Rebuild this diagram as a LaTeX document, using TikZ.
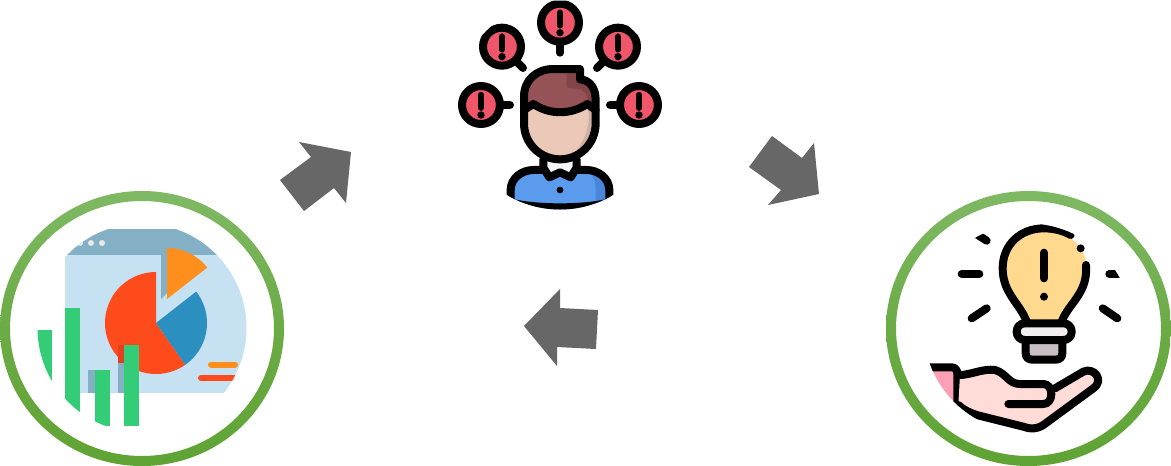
\documentclass[tikz,border=0pt]{standalone}
\definecolor{ringtop}{HTML}{7FB964}
\definecolor{ringmid}{HTML}{6BAB45}
\definecolor{ringbot}{HTML}{5FA334}
\definecolor{arrowgrey}{HTML}{676767}
\definecolor{winbg}{HTML}{C5E1F2}
\definecolor{winhead}{HTML}{84B0C6}
\definecolor{dotgrey}{HTML}{E8E8E8}
\definecolor{piered}{HTML}{FE4B1C}
\definecolor{piedark}{HTML}{E63D1C}
\definecolor{pieblue}{HTML}{2B90C0}
\definecolor{pieorange}{HTML}{FE8F1C}
\definecolor{bargreen}{HTML}{32CD76}
\definecolor{bulbfill}{HTML}{FED98E}
\definecolor{collar}{HTML}{F2EEEF}
\definecolor{socket}{HTML}{C9BEC3}
\definecolor{handfill}{HTML}{FFDCD8}
\definecolor{cuff}{HTML}{FDA0B5}
\definecolor{bubble}{HTML}{F0566A}
\definecolor{bubbledark}{HTML}{DD4558}
\definecolor{skin}{HTML}{ECC8B9}
\definecolor{skindark}{HTML}{D2AFA5}
\definecolor{hair}{HTML}{955257}
\definecolor{hairdark}{HTML}{834448}
\definecolor{shirt}{HTML}{5B9BEE}
\definecolor{shirtdark}{HTML}{4A86DA}
\definecolor{bow}{HTML}{F4F4F6}
\tikzset{
  blockarrow/.style={fill=arrowgrey,draw=none},
  greenring/.style={top color=ringtop,bottom color=ringbot,middle color=ringmid,even odd rule},
  ink/.style={draw=black,line width=8pt,line cap=round,line join=round},
  zoomcoords/.style={x=0.33333pt,y=-0.33333pt}
}
\newcommand{\sector}[5]{% colour, cx, cy, from, to
  \fill[#1] (#2,#3) -- plot[domain=#4:#5,samples=60] ({#2+51*cos(\x)},{#3-51*sin(\x)}) -- cycle;}
\newcommand{\alertbubble}[2]{%
  \begin{scope}
    \clip (#1,#2) circle (19pt);
    \fill[bubbledark] (#1,#2) circle (19pt);
    \fill[bubble] (#1-15,#2) circle (19pt);
  \end{scope}
  \draw[ink] (#1,#2) circle (19pt);
  \draw[ink,line width=6.5pt] (#1,#2-30)--(#1,#2+8);
  \fill[black] (#1,#2+30) circle (3.7pt);}
\begin{document}
\begin{tikzpicture}[x=1pt,y=-1pt]
\useasboundingbox (0,0) rectangle (1171,466);
\fill[white] (0,0) rectangle (1171,466);

% block arrows
\fill[blockarrow] (280,180)--(311,157)--(299,142)--(351,152)--(346,203)--(334,188)--(304,211)--cycle;
\fill[blockarrow] (749,167)--(772,136)--(802,158)--(814,143)--(819,194)--(768,205)--(781,190)--cycle;
\fill[blockarrow] (524,326)--(560,289)--(560,308)--(598,310)--(596,349)--(557,347)--(557,366)--cycle;

% rings
\shade[greenring] (142,328.5) ellipse (142pt and 137.5pt) (142,328.5) ellipse (132pt and 127.5pt);
\shade[greenring] (1028.5,328.5) ellipse (142.5pt and 137.5pt) (1028.5,328.5) ellipse (132.5pt and 127.5pt);

% left icon: dashboard
\begin{scope}
  \clip (142,328) circle (104.5pt);
  \fill[winbg] (65,229) rectangle (250,393);
  \fill[winhead] (65,229) rectangle (250,255);
  \foreach \dx in {80,91,102} \fill[dotgrey] (\dx,243) circle (3pt);
  \fill[winhead] (161,255)--(167,255)--(167,293)--(161,299)--cycle;
  \fill[winhead] (88,370) rectangle (95,393);
  \fill[winhead] (118,345) rectangle (124,393);
  \sector{piered}{156}{323}{90}{305}
  \sector{pieblue}{156}{323}{-55}{38}
  \fill[pieorange] (167,299) -- plot[domain=90:38,samples=40] ({167+51*cos(\x)},{299-51*sin(\x)}) -- cycle;
  \fill[piedark] (118,345) rectangle (124,363);
  \fill[bargreen] (37,330) rectangle (52,426);
  \fill[bargreen] (65,308) rectangle (80,426);
  \fill[bargreen] (95,370) rectangle (110,426);
  \fill[bargreen] (124,345) rectangle (139,426);
  \draw[pieorange,line width=6pt,line cap=round] (211,364.5)--(235,364.5);
  \draw[piered,line width=6pt,line cap=round] (201,378)--(240,378);
\end{scope}

% right icon: bulb over hand
\begin{scope}
  \clip (1028,328) circle (104.5pt);
  \begin{scope}[shift={(880,180)},zoomcoords]
    % bulb
    \fill[bulbfill] (440,425) .. controls (420,370) and (368,340) .. (368,265)
      .. controls (368,195) and (420,145) .. (492,145)
      .. controls (530,145) and (620,180) .. (620,265)
      .. controls (620,340) and (565,370) .. (545,425) -- cycle;
    \draw[ink] (440,425) .. controls (420,370) and (368,340) .. (368,265)
      .. controls (368,195) and (420,145) .. (492,145)
      .. controls (520,145) and (550,152) .. (572,165);
    \draw[ink] (618,255) .. controls (625,340) and (565,370) .. (545,425);
    \fill[black] (602,205) circle (4pt);
    \draw[ink] (492,218)--(492,295);
    \fill[black] (492,350) circle (4pt);
    % socket
    \draw[ink,fill=socket] (437,470) -- (437,520) .. controls (437,532) and (445,539) .. (457,539)
      -- (527,539) .. controls (539,539) and (547,532) .. (547,520) -- (547,470);
    % collar
    \draw[ink,fill=collar,rounded corners=8pt] (410,430) rectangle (575,480);
    % rays
    \draw[ink] (245,282)--(298,282);
    \draw[ink] (275,415)--(320,385);
    \draw[ink] (668,385)--(712,415);
    \draw[ink] (688,282)--(740,282);
    \draw[ink] (270,150)--(320,182);
    % cuff
    \fill[cuff] (120,562) -- (232,562) -- (232,700) -- (120,700) -- cycle;
    \draw[ink] (120,562) -- (215,562) .. controls (225,562) and (232,570) .. (232,580) -- (232,670);
    % hand
    \fill[handfill] (240,585) .. controls (270,585) and (310,565) .. (345,570)
      .. controls (380,580) and (385,612) .. (420,612) -- (490,612)
      -- (520,625) -- (610,575) .. controls (640,560) and (675,600) .. (640,625)
      -- (490,735) .. controls (470,748) and (450,748) .. (430,740)
      -- (290,705) .. controls (270,698) and (250,690) .. (235,675) -- cycle;
    \draw[ink] (240,585) .. controls (270,585) and (310,565) .. (345,570)
      .. controls (380,580) and (385,612) .. (420,612) -- (490,612)
      .. controls (522,612) and (522,672) .. (490,672) -- (385,672);
    \draw[ink] (525,625) -- (610,575) .. controls (640,560) and (675,600) .. (640,625)
      -- (490,735) .. controls (470,748) and (450,748) .. (430,740)
      -- (290,705) .. controls (270,698) and (250,690) .. (235,675);
  \end{scope}
\end{scope}

% top icon: person with alerts
\begin{scope}
  \clip (560,105) circle (104.5pt);
  \begin{scope}[shift={(450,0)},zoomcoords]
    \alertbubble{330}{68}
    \alertbubble{156}{140}
    \alertbubble{504}{140}
    \alertbubble{93}{315}
    \alertbubble{567}{315}
    \draw[ink] (330,135)--(330,158);
    \draw[ink] (205,190)--(219,204);
    \draw[ink] (455,190)--(441,204);
    \draw[ink] (160,315)--(180,315);
    \draw[ink] (500,315)--(480,315);
    % shirt
    \fill[shirt] (182,640) -- (182,570) .. controls (182,535) and (215,510) .. (250,510) -- (410,510)
      .. controls (445,510) and (478,535) .. (478,570) -- (478,640) -- cycle;
    \fill[shirtdark] (415,512) .. controls (430,530) and (437,545) .. (437,570) -- (437,640) -- (478,640) -- (478,570) .. controls (478,545) and (450,515) .. (415,512) -- cycle;
    \draw[ink,line cap=butt] (182,640) -- (182,570) .. controls (182,535) and (215,510) .. (250,510) -- (285,510);
    \draw[ink,line cap=butt] (478,640) -- (478,570) .. controls (478,535) and (445,510) .. (410,510) -- (375,510);
    \draw[ink,line cap=butt] (182,607) .. controls (250,627) and (410,627) .. (478,607);
    \fill[black] (330,570) circle (3.4pt);
    % neck and bow
    \draw[ink,fill=bow] (280,478) -- (280,503) -- (298,532) -- (330,517) -- (362,532) -- (380,503) -- (380,478);
    % head
    \fill[skin] (222,290) .. controls (222,240) and (260,207) .. (310,207) -- (390,207) -- (390,238)
      .. controls (420,240) and (437,265) .. (437,300) -- (437,370)
      .. controls (437,430) and (390,478) .. (330,478) .. controls (270,478) and (222,430) .. (222,370) -- cycle;
    \begin{scope}
      \clip (222,290) .. controls (222,240) and (260,207) .. (310,207) -- (390,207) -- (390,238)
      .. controls (420,240) and (437,265) .. (437,300) -- (437,370)
      .. controls (437,430) and (390,478) .. (330,478) .. controls (270,478) and (222,430) .. (222,370) -- cycle;
      \fill[skindark] (412,320) .. controls (430,380) and (390,460) .. (340,480) -- (450,490) -- (450,320) -- cycle;
      \fill[hair] (210,200) rectangle (450,300);
      \fill[hair] (210,300) -- (210,325) -- (250,312) .. controls (300,345) and (360,345) .. (412,312) -- (450,330) -- (450,300) -- cycle;
      \fill[hairdark] (350,200) -- (350,262) -- (395,268) .. controls (410,280) and (415,295) .. (417,312) -- (450,330) -- (450,200) -- cycle;
    \end{scope}
    \draw[ink] (222,330) -- (250,312) .. controls (300,345) and (360,345) .. (412,312) -- (437,330);
    \draw[ink] (222,290) .. controls (222,240) and (260,207) .. (310,207) -- (390,207) -- (390,238)
      .. controls (420,240) and (437,265) .. (437,300) -- (437,370)
      .. controls (437,430) and (390,478) .. (330,478) .. controls (270,478) and (222,430) .. (222,370) -- cycle;
  \end{scope}
\end{scope}
\end{tikzpicture}
\end{document}
